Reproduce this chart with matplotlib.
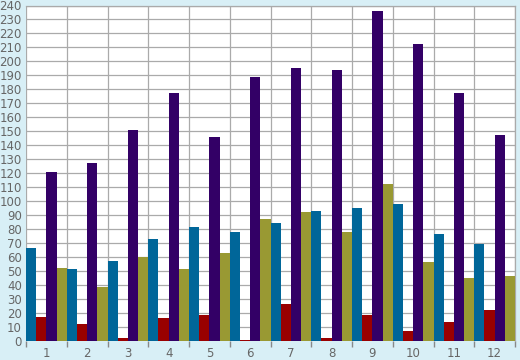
import numpy as np
import matplotlib.pyplot as plt
from matplotlib.ticker import MultipleLocator

categories = ['1', '2', '3', '4', '5', '6', '7', '8', '9', '10', '11', '12']
blue = [66, 51, 57, 73, 81, 78, 84, 93, 95, 98, 76, 69]
red = [16.5, 11.5, 1.5, 16, 18, 0.6, 26.5, 1.5, 18, 6.5, 13.5, 22]
purple = [121, 127, 151, 177, 145.5, 189, 195, 194, 236, 212.5, 177, 147.5]
olive = [52, 38, 60, 51, 63, 87, 92, 78, 112, 56, 44.5, 46.5]

series = [blue, red, purple, olive]
colors = ['#006699', '#990000', '#330066', '#999933']

bg = '#d8eff6'
fig = plt.figure(figsize=(5.2, 3.6), dpi=100, facecolor=bg)
ax = fig.add_axes([26 / 520, 19.5 / 360, 489 / 520, 335 / 360])
ax.set_facecolor('white')

x = np.arange(len(categories))
w = 0.25
for k, (vals, c) in enumerate(zip(series, colors)):
    ax.bar(x - 0.375 + k * w, vals, width=w, color=c, linewidth=0, zorder=3)

ax.set_xlim(-0.5, len(categories) - 0.5)
ax.set_ylim(0, 240)
ax.yaxis.set_major_locator(MultipleLocator(10))
ax.set_xticks(x)
ax.set_xticklabels(categories)
ax.set_xticks(np.arange(-0.5, len(categories), 1), minor=True)

ax.grid(True, axis='y', color='#aaaaaa', linewidth=0.9, zorder=0)
ax.grid(True, axis='x', which='minor', color='#aaaaaa', linewidth=0.9, zorder=0)
ax.grid(False, axis='x', which='major')

ax.tick_params(axis='x', which='major', length=0, pad=5, labelsize=8.5, labelcolor='#666666')
ax.tick_params(axis='x', which='minor', length=4, width=1, color='#888888', direction='out')
ax.tick_params(axis='y', length=0, pad=3, labelsize=8.5, labelcolor='#666666')

for s in ax.spines.values():
    s.set_color('#aaaaaa')
    s.set_linewidth(0.9)
ax.spines['bottom'].set_visible(False)
ax.spines['left'].set_visible(False)

fig.savefig('out.png', dpi=100, facecolor=bg)
